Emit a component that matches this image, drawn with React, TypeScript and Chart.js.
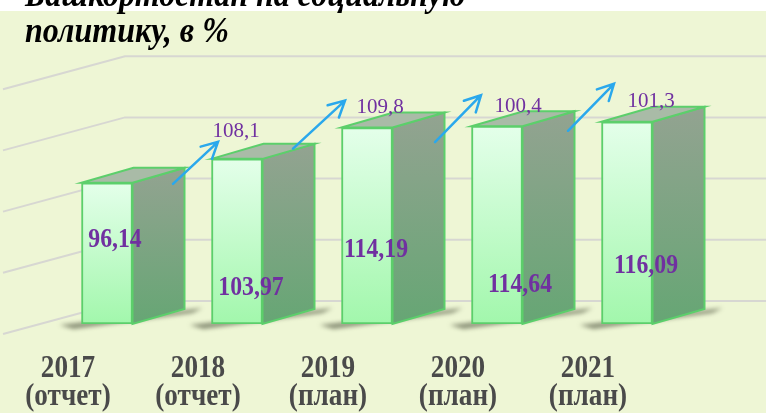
import React, { useEffect, useRef } from "react";
import { Chart, registerables } from "chart.js";

Chart.register(...registerables);

// ---- data ----
const categories = ["2017", "2018", "2019", "2020", "2021"];
const periodNotes = ["(отчет)", "(отчет)", "(план)", "(план)", "(план)"];
const executionValues = [96.14, 103.97, 114.19, 114.64, 116.09];
const growthValues: (number | null)[] = [null, 108.1, 109.8, 100.4, 101.3];
const titleLines = ["Башкортостан на социальную", "политику, в %"];
const yMin = 50;
const yMax = 150;
const yStep = 20;

// ---- label placement (axis units / pixel offsets) ----
const valueLabelLevel = [75.3, 59.5, 71.9, 60.5, 66.7];
const valueLabelShiftX = [8, 14, 9, 23, 19];
const growthLabelOffset = [[0, 0], [-1, -22], [13, -15], [21, -14], [24, -15]];
const arrowTailOffset = [[0, 0], [-64, 25], [-74, 21], [-62, 16], [-59, 9]];
const arrowTipOffset = [[0, 0], [-19, -17], [-22, -27], [-16, -31], [-13, -38]];

// ---- style ----
const BG = "#EEF6D5";
const GRID = "#D7D7D2";
const PURPLE = "#7030A0";
const EDGE = "#5CCF6B";
const ARROW = "#2AA8EC";
const DX = 52;
const DY = -15;
const SERIF = '"Liberation Serif", "Times New Roman", serif';

const fmt = (v: number, d: number) => v.toFixed(d).replace(".", ",");

function condensedText(ctx: CanvasRenderingContext2D, t: string, x: number, y: number, k: number) {
  const w = ctx.measureText(t).width;
  ctx.fillText(t, x, y, w * k);
}

const pseudo3d = {
  id: "pseudo3d",
  beforeDraw(chart: any) {
    const { ctx, width, height } = chart;
    const ys = chart.scales.y;
    ctx.save();
    ctx.fillStyle = "#ffffff";
    ctx.fillRect(0, 0, width, height);
    ctx.fillStyle = BG;
    ctx.fillRect(0, 11, width, height - 11);

    // back-wall gridlines with left side wall
    ctx.strokeStyle = GRID;
    ctx.lineWidth = 2;
    ys.ticks.forEach((t: any) => {
      const py = ys.getPixelForValue(t.value) - 23;
      if (!isFinite(py) || py < 30) return;
      ctx.beginPath();
      ctx.moveTo(3, py + 33);
      ctx.lineTo(125, py);
      ctx.lineTo(width, py);
      ctx.stroke();
    });

    // title
    ctx.fillStyle = "#000000";
    ctx.textAlign = "left";
    ctx.textBaseline = "alphabetic";
    ctx.font = `italic bold 35px ${SERIF}`;
    condensedText(ctx, titleLines[0], 25, 6, 0.915);
    condensedText(ctx, titleLines[1], 25, 42, 0.915);
    ctx.restore();
  },
  beforeDatasetsDraw(chart: any) {
    const { ctx } = chart;
    const ys = chart.scales.y;
    const meta = chart.getDatasetMeta(0);
    const yb = ys.getPixelForValue(yMin);
    ctx.save();
    meta.data.forEach((el: any) => {
      const x0 = el.x - el.width / 2;
      const x1 = el.x + el.width / 2;
      const yt = el.y;
      if (![x0, x1, yt, yb].every(isFinite)) return;
      // floor shadow
      ctx.save();
      ctx.filter = "blur(2px)";
      ctx.fillStyle = "rgba(60,66,45,0.55)";
      ctx.beginPath();
      ctx.moveTo(x0 - 22, yb + 1);
      ctx.lineTo(x1 + DX + 18, yb + DY - 1);
      ctx.lineTo(x1 + DX + 8, yb + DY + 4);
      ctx.lineTo(x0 - 8, yb + 5);
      ctx.closePath();
      ctx.fill();
      ctx.restore();

      // side face
      const gs = ctx.createLinearGradient(0, yt + DY, 0, yb);
      gs.addColorStop(0, "#93A391");
      gs.addColorStop(1, "#66A674");
      ctx.fillStyle = gs;
      ctx.beginPath();
      ctx.moveTo(x1, yt);
      ctx.lineTo(x1 + DX, yt + DY);
      ctx.lineTo(x1 + DX, yb + DY);
      ctx.lineTo(x1, yb);
      ctx.closePath();
      ctx.fill();
      ctx.strokeStyle = EDGE;
      ctx.lineWidth = 2;
      ctx.stroke();

      // top face
      ctx.fillStyle = "#A9BBA7";
      ctx.beginPath();
      ctx.moveTo(x0, yt);
      ctx.lineTo(x0 + DX, yt + DY);
      ctx.lineTo(x1 + DX, yt + DY);
      ctx.lineTo(x1, yt);
      ctx.closePath();
      ctx.fill();
      ctx.stroke();
    });
    ctx.restore();
  },
  afterDatasetsDraw(chart: any) {
    const { ctx } = chart;
    const ys = chart.scales.y;
    const xs = chart.scales.x;
    const meta = chart.getDatasetMeta(0);
    ctx.save();

    // value labels inside bars
    ctx.fillStyle = PURPLE;
    ctx.textAlign = "center";
    ctx.textBaseline = "alphabetic";
    ctx.font = `bold 27px ${SERIF}`;
    meta.data.forEach((el: any, i: number) => {
      condensedText(ctx, fmt(executionValues[i], 2), el.x + valueLabelShiftX[i], ys.getPixelForValue(valueLabelLevel[i]), 0.88);
    });

    // growth arrows and labels
    meta.data.forEach((el: any, i: number) => {
      const g = growthValues[i];
      if (g == null) return;
      const tx = el.x + arrowTailOffset[i][0];
      const ty = el.y + arrowTailOffset[i][1];
      const hx = el.x + arrowTipOffset[i][0];
      const hy = el.y + arrowTipOffset[i][1];
      ctx.strokeStyle = ARROW;
      ctx.lineWidth = 2.5;
      ctx.lineCap = "round";
      ctx.beginPath();
      ctx.moveTo(tx, ty);
      ctx.lineTo(hx, hy);
      const ang = Math.atan2(ty - hy, tx - hx);
      const L = 18;
      const a = 0.48;
      ctx.moveTo(hx + L * Math.cos(ang + a), hy + L * Math.sin(ang + a));
      ctx.lineTo(hx, hy);
      ctx.lineTo(hx + L * Math.cos(ang - a), hy + L * Math.sin(ang - a));
      ctx.stroke();

      ctx.fillStyle = PURPLE;
      ctx.font = `21px ${SERIF}`;
      ctx.textAlign = "center";
      ctx.fillText(fmt(g, 1), el.x + growthLabelOffset[i][0], el.y + growthLabelOffset[i][1]);
    });

    // category labels
    ctx.fillStyle = "#4A4A4A";
    ctx.textAlign = "center";
    ctx.textBaseline = "alphabetic";
    ctx.font = `bold 32px ${SERIF}`;
    const bottom = chart.chartArea.bottom;
    categories.forEach((c, i) => {
      const cx = xs.getPixelForTick(i) - 39;
      condensedText(ctx, c, cx, bottom + 53, 0.85);
      condensedText(ctx, periodNotes[i], cx, bottom + 81, 0.85);
    });
    ctx.restore();
  },
};

export default function App() {
  const ref = useRef<HTMLCanvasElement | null>(null);
  useEffect(() => {
    document.body.style.margin = "0";
    const canvas = ref.current;
    if (!canvas) return;
    const chart = new Chart(canvas, {
      type: "bar",
      data: {
        labels: categories,
        datasets: [
          {
            data: executionValues,
            base: yMin,
            barThickness: 51,
            borderColor: EDGE,
            borderWidth: 2,
            borderSkipped: false,
            backgroundColor: (c: any) => {
              const ch = c.chart;
              const ys = ch.scales?.y;
              if (!ys || c.raw == null) return "#C8FCCD";
              const top = ys.getPixelForValue(c.raw);
              const bot = ys.getPixelForValue(yMin);
              if (!isFinite(top) || !isFinite(bot) || top === bot) return "#C8FCCD";
              const g = ch.ctx.createLinearGradient(0, top, 0, bot);
              g.addColorStop(0, "#E4FFEA");
              g.addColorStop(1, "#A2F7AC");
              return g;
            },
          } as any,
        ],
      },
      options: {
        responsive: false,
        animation: false,
        layout: { padding: { left: 42, right: 74, top: 18, bottom: 89 } },
        plugins: {
          legend: { display: false },
          tooltip: { enabled: false },
          title: { display: false },
        },
        scales: {
          x: { type: "category", display: false, offset: true, grid: { display: false } },
          y: { display: false, min: yMin, max: yMax, ticks: { stepSize: yStep } },
        },
      },
      plugins: [pseudo3d],
    });
    return () => chart.destroy();
  }, []);
  return (
    <div style={{ width: 766, height: 413 }}>
      <canvas ref={ref} width={766} height={413} style={{ display: "block" }} />
    </div>
  );
}
